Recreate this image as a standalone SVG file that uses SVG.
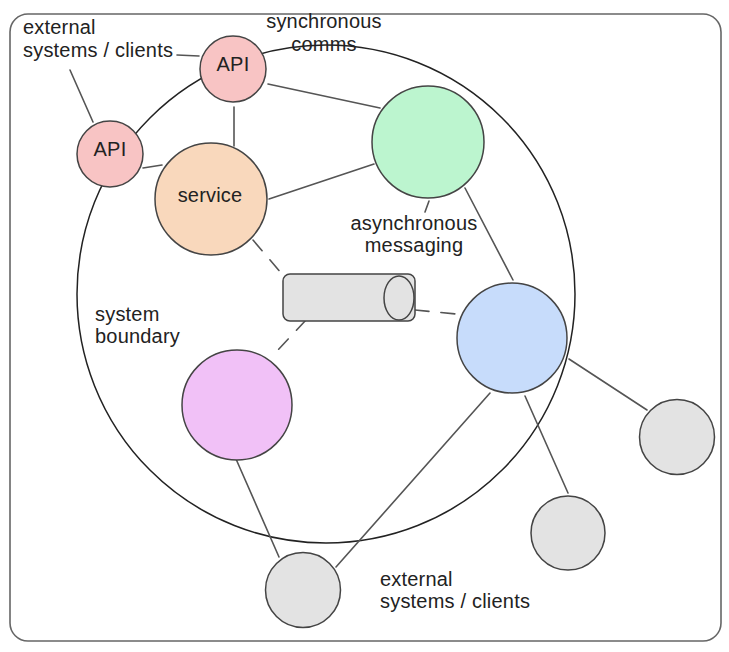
<svg xmlns="http://www.w3.org/2000/svg" width="729" height="652" viewBox="0 0 729 652">
<style>
  .lbl { font-family: "Liberation Sans", Arial, sans-serif; font-size: 20px; letter-spacing: 0.2px; fill: #222; }
  .mid { text-anchor: middle; }
  .node { stroke: #444; stroke-width: 1.5; }
  .conn line { stroke: #555; stroke-width: 1.6; stroke-linecap: round; fill: none; }
  .conn .dash { stroke-dasharray: 14 12; }
</style>
<rect width="729" height="652" fill="#ffffff"/>
<rect x="10" y="14" width="711" height="627" rx="18" fill="none" stroke="#666" stroke-width="1.6"/>
<g id="system-boundary">
  <circle cx="326" cy="294" r="249" fill="none" stroke="#222" stroke-width="1.5"/>
  <text class="lbl" x="95" y="321">system</text>
  <text class="lbl" x="95" y="343">boundary</text>
</g>
<g class="conn" id="connectors">
  <line x1="177" y1="55" x2="199" y2="56"/>
  <line x1="70" y1="70" x2="93" y2="122"/>
  <line x1="234" y1="107" x2="234" y2="146"/>
  <line x1="268" y1="84" x2="380" y2="108"/>
  <line x1="143" y1="168" x2="162" y2="165"/>
  <line x1="269" y1="199" x2="374" y2="164"/>
  <line x1="429" y1="201" x2="425" y2="212"/>
  <line x1="465" y1="188" x2="513" y2="280"/>
  <line class="dash" x1="253" y1="240" x2="282" y2="274"/>
  <line class="dash" x1="306" y1="320" x2="276" y2="352"/>
  <line class="dash" x1="415" y1="310" x2="456" y2="314"/>
  <line x1="569" y1="359" x2="647" y2="410"/>
  <line x1="525" y1="396" x2="568" y2="493"/>
  <line x1="490" y1="393" x2="336" y2="567"/>
  <line x1="236" y1="459" x2="279" y2="557"/>
</g>
<g id="label-external-top">
  <text class="lbl" x="23" y="34">external</text>
  <text class="lbl" x="23" y="57">systems / clients</text>
</g>
<g id="label-sync">
  <text class="lbl mid" x="324" y="28">synchronous</text>
  <text class="lbl mid" x="324" y="51">comms</text>
</g>
<g id="api-top">
  <circle class="node" cx="233" cy="69" r="33" fill="#f8c4c4"/>
  <text class="lbl mid" x="233" y="71">API</text>
</g>
<g id="api-left">
  <circle class="node" cx="110" cy="154" r="33" fill="#f8c4c4"/>
  <text class="lbl mid" x="110" y="156">API</text>
</g>
<g id="service">
  <circle class="node" cx="211" cy="199" r="56" fill="#f9d8bc"/>
  <text class="lbl mid" x="210" y="202">service</text>
</g>
<g id="async-node">
  <circle class="node" cx="428" cy="142" r="56" fill="#bcf5cf"/>
</g>
<g id="label-async">
  <text class="lbl mid" x="414" y="230">asynchronous</text>
  <text class="lbl mid" x="414" y="252">messaging</text>
</g>
<g id="queue">
  <rect class="node" x="283" y="274" width="132" height="47" rx="7" fill="#e3e3e3"/>
  <ellipse class="node" cx="399" cy="298" rx="15" ry="22" fill="#e3e3e3"/>
</g>
<g id="blue-node">
  <circle class="node" cx="512" cy="338" r="55" fill="#c7dcfb"/>
</g>
<g id="pink-node">
  <circle class="node" cx="237" cy="405" r="55" fill="#f1c1f7"/>
</g>
<g id="ext-1">
  <circle class="node" cx="303" cy="590" r="37.5" fill="#e3e3e3"/>
</g>
<g id="ext-2">
  <circle class="node" cx="568" cy="533" r="37" fill="#e3e3e3"/>
</g>
<g id="ext-3">
  <circle class="node" cx="677" cy="437" r="37.5" fill="#e3e3e3"/>
</g>
<g id="label-external-bottom">
  <text class="lbl" x="380" y="586">external</text>
  <text class="lbl" x="380" y="608">systems / clients</text>
</g>
</svg>
